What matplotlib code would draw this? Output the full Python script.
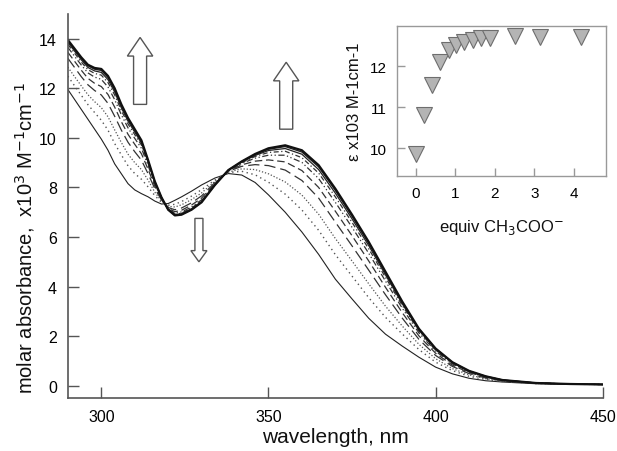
import matplotlib.pyplot as plt
from matplotlib.patches import FancyArrow

plt.rcParams["font.family"] = ["Liberation Sans", "DejaVu Sans"]

# wavelength grid (nm)
wl = [290, 292, 294, 296, 298, 300, 302, 304, 306, 308, 310, 312, 314, 316, 318, 320, 322, 324, 327, 330,
      334, 338, 342, 346, 350, 355, 360, 365, 370, 375, 380, 385, 390, 395, 400, 405, 410, 415, 420, 430,
      440, 450]

# molar absorbance (x10^3 M-1 cm-1), 0 equiv -> saturation
spec_0 = [11.95, 11.55, 11.15, 10.75, 10.35, 9.95, 9.50, 8.95, 8.55, 8.15, 7.90, 7.75, 7.62, 7.45, 7.33, 7.35,
          7.48, 7.62, 7.85, 8.10, 8.38, 8.56, 8.50, 8.20, 7.70, 7.00, 6.20, 5.30, 4.30, 3.50, 2.72, 2.08,
          1.60, 1.15, 0.75, 0.48, 0.30, 0.20, 0.15, 0.08, 0.06, 0.05]
spec_1 = [12.49, 12.10, 11.72, 11.34, 11.02, 10.71, 10.31, 9.77, 9.31, 8.87, 8.56, 8.33, 8.02, 7.67, 7.40, 7.28,
          7.32, 7.43, 7.65, 7.91, 8.30, 8.60, 8.65, 8.51, 8.21, 7.73, 7.09, 6.27, 5.29, 4.42, 3.55, 2.76,
          2.09, 1.46, 0.95, 0.61, 0.38, 0.25, 0.17, 0.09, 0.06, 0.05]
spec_2 = [12.85, 12.47, 12.10, 11.74, 11.46, 11.22, 10.85, 10.32, 9.81, 9.34, 9.00, 8.72, 8.29, 7.81, 7.45, 7.24,
          7.21, 7.30, 7.51, 7.78, 8.25, 8.62, 8.75, 8.72, 8.55, 8.22, 7.69, 6.92, 5.94, 5.03, 4.11, 3.21,
          2.41, 1.67, 1.09, 0.69, 0.44, 0.28, 0.19, 0.09, 0.06, 0.05]
spec_3 = [13.21, 12.84, 12.47, 12.14, 11.91, 11.73, 11.39, 10.87, 10.31, 9.82, 9.44, 9.10, 8.55, 7.95, 7.50, 7.19,
          7.10, 7.17, 7.38, 7.66, 8.20, 8.65, 8.85, 8.92, 8.88, 8.70, 8.28, 7.57, 6.60, 5.64, 4.66, 3.67,
          2.73, 1.87, 1.22, 0.78, 0.49, 0.31, 0.20, 0.10, 0.07, 0.05]
spec_4 = [13.45, 13.09, 12.73, 12.40, 12.20, 12.07, 11.75, 11.24, 10.65, 10.14, 9.74, 9.36, 8.73, 8.05, 7.53, 7.16,
          7.02, 7.08, 7.29, 7.57, 8.17, 8.67, 8.91, 9.06, 9.11, 9.03, 8.68, 8.00, 7.04, 6.05, 5.03, 3.97,
          2.95, 2.01, 1.31, 0.83, 0.53, 0.34, 0.21, 0.10, 0.07, 0.05]
spec_5 = [13.65, 13.29, 12.94, 12.62, 12.45, 12.36, 12.05, 11.54, 10.93, 10.40, 9.98, 9.58, 8.88, 8.13, 7.56, 7.14,
          6.96, 7.01, 7.21, 7.50, 8.14, 8.68, 8.97, 9.18, 9.30, 9.30, 9.01, 8.36, 7.40, 6.39, 5.34, 4.22,
          3.13, 2.13, 1.39, 0.88, 0.56, 0.35, 0.22, 0.11, 0.07, 0.05]
spec_6 = [13.77, 13.42, 13.06, 12.75, 12.60, 12.53, 12.23, 11.73, 11.10, 10.56, 10.13, 9.71, 8.97, 8.18, 7.58, 7.12,
          6.92, 6.96, 7.17, 7.46, 8.13, 8.69, 9.00, 9.25, 9.41, 9.46, 9.20, 8.58, 7.62, 6.59, 5.52, 4.37,
          3.24, 2.20, 1.43, 0.91, 0.57, 0.36, 0.22, 0.11, 0.07, 0.05]
spec_7 = [13.85, 13.50, 13.15, 12.84, 12.70, 12.64, 12.35, 11.85, 11.21, 10.67, 10.23, 9.79, 9.03, 8.21, 7.59, 7.11,
          6.90, 6.94, 7.14, 7.43, 8.11, 8.69, 9.02, 9.29, 9.49, 9.57, 9.34, 8.72, 7.77, 6.73, 5.65, 4.47,
          3.31, 2.24, 1.46, 0.93, 0.59, 0.37, 0.23, 0.11, 0.07, 0.05]
spec_8 = [13.91, 13.56, 13.21, 12.91, 12.77, 12.72, 12.44, 11.94, 11.29, 10.75, 10.30, 9.86, 9.07, 8.23, 7.59, 7.10,
          6.88, 6.91, 7.11, 7.41, 8.11, 8.70, 9.04, 9.33, 9.54, 9.65, 9.43, 8.83, 7.88, 6.83, 5.74, 4.55,
          3.36, 2.28, 1.49, 0.94, 0.59, 0.38, 0.23, 0.11, 0.07, 0.05]
spec_f = [13.95, 13.60, 13.25, 12.95, 12.82, 12.78, 12.50, 12.00, 11.35, 10.80, 10.35, 9.90, 9.10, 8.25, 7.60, 7.10,
          6.87, 6.90, 7.10, 7.40, 8.10, 8.70, 9.05, 9.35, 9.58, 9.70, 9.50, 8.90, 7.95, 6.90, 5.80, 4.60,
          3.40, 2.30, 1.50, 0.95, 0.60, 0.38, 0.23, 0.11, 0.07, 0.05]

spectra = [spec_0, spec_1, spec_2, spec_3, spec_4, spec_5, spec_6, spec_7, spec_8, spec_f]
styles = ["-", (0, (1, 2.5)), (0, (1, 1.5)), (0, (9, 4)), (0, (6, 3)),
          (0, (5, 2, 1, 2, 1, 2)), (0, (4, 2, 1, 2)), "-", "-", "-"]
widths = [0.8, 1.0, 0.9, 0.9, 0.9, 0.9, 0.9, 0.9, 1.0, 1.6]
colors = ["#222222", "#555555", "#555555", "#333333", "#333333",
          "#333333", "#333333", "#222222", "#222222", "#111111"]

# inset titration data
equiv = [0.0, 0.2, 0.4, 0.62, 0.83, 1.02, 1.22, 1.45, 1.64, 1.87, 2.52, 3.14, 4.19]
eps = [9.86, 10.81, 11.54, 12.09, 12.39, 12.50, 12.58, 12.64, 12.67, 12.69, 12.72, 12.70, 12.70]

fig = plt.figure(figsize=(6.17, 4.52), dpi=100)
ax = fig.add_axes([0.110, 0.117, 0.867, 0.850])

for y, ls, lw, c in zip(spectra, styles, widths, colors):
    ax.plot(wl, y, linestyle=ls, linewidth=lw, color=c)

ax.set_xlim(290, 450)
ax.set_ylim(-0.5, 15)
ax.set_xticks([300, 350, 400, 450])
ax.set_yticks([0, 2, 4, 6, 8, 10, 12, 14])
for s in ["top", "right"]:
    ax.spines[s].set_visible(False)
for s in ["left", "bottom"]:
    ax.spines[s].set_color("#555555")
    ax.spines[s].set_linewidth(1.2)
ax.tick_params(direction="in", length=8, width=1, color="#555555", labelsize=11.5, pad=8)
ax.set_xlabel("wavelength, nm", fontsize=15, color="#111111", labelpad=2)
ax.set_ylabel("molar absorbance,  x10$^3$ M$^{-1}$cm$^{-1}$", fontsize=14.5, color="#111111")
ax.yaxis.set_label_coords(-0.058, 0.42)

# hollow block arrows (data coords)
arrow_kw = dict(length_includes_head=True, fc="white", ec="#555555", lw=1.0)
ax.add_patch(FancyArrow(311.6, 11.35, 0, 2.7, width=3.9, head_width=7.6, head_length=0.75, **arrow_kw))
ax.add_patch(FancyArrow(355.3, 10.35, 0, 2.7, width=3.9, head_width=7.6, head_length=0.75, **arrow_kw))
ax.add_patch(FancyArrow(329.2, 6.75, 0, -1.75, width=2.4, head_width=4.8, head_length=0.45, **arrow_kw))

# inset
ins = fig.add_axes([0.643, 0.608, 0.339, 0.332])
ins.plot(equiv, eps, linestyle="none", marker="v", markersize=11,
         markerfacecolor="#b4b4b4", markeredgecolor="#6e6e6e", markeredgewidth=0.8)
ins.set_xlim(-0.48, 4.81)
ins.set_ylim(9.32, 12.97)
ins.set_xticks([0, 1, 2, 3, 4])
ins.set_yticks([10, 11, 12])
for s in ins.spines.values():
    s.set_color("#999999")
    s.set_linewidth(1.0)
ins.tick_params(direction="in", length=6, width=1, color="#999999", labelsize=11, pad=7)
ins.set_xlabel("equiv CH$_3$COO$^{-}$", fontsize=12, color="#111111", labelpad=12)
ins.set_ylabel("ε x103 M-1cm-1", fontsize=12, color="#111111", labelpad=6)

fig.savefig("out.png", dpi=100)
